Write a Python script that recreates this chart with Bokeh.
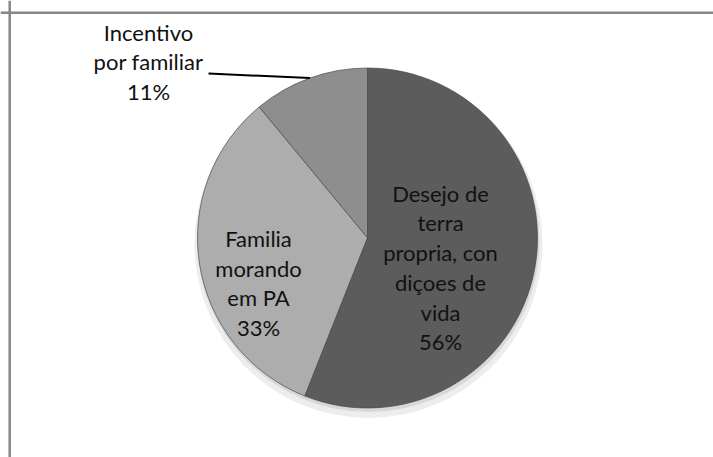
import numpy as np
from bokeh.plotting import figure
from bokeh.models import Range1d, Span, ColumnDataSource
from bokeh.core.properties import value
from bokeh.embed import file_html
from bokeh.resources import INLINE

# ---- data ----
categories = ["Incentivo\npor familiar", "Familia\nmorando\nem PA",
              "Desejo de\nterra\npropria, con\ndiçoes de\nvida"]
percents = [11, 33, 56]
colors = ["#8e8e8e", "#adadad", "#5c5c5c"]

# ---- layout constants ----
W, H = 713, 457
cx, cy, R = 367, 219.5, 170
label_x = [148, 258, 440]
label_y = [395.5, 174.5, 190]

p = figure(width=W, height=H, x_range=Range1d(0, W), y_range=Range1d(0, H),
           output_backend="svg", toolbar_location=None, min_border=0)
p.axis.visible = False
p.grid.visible = False
p.outline_line_color = None
p.background_fill_color = "white"
p.border_fill_color = "white"

frac = np.array(percents, dtype=float) / sum(percents)
ends = np.pi / 2 + 2 * np.pi * np.cumsum(frac)
starts = ends - 2 * np.pi * frac

# soft shadow
p.circle(x=[cx + 1], y=[cy - 6], radius=R + 4, fill_color="#e6e6e6", line_color=None, alpha=0.7)
p.circle(x=[cx + 1], y=[cy - 3], radius=R + 1, fill_color="#cfcfcf", line_color=None, alpha=0.7)

src = ColumnDataSource(dict(start=starts, end=ends, color=colors))
p.wedge(x=cx, y=cy, radius=R, start_angle="start", end_angle="end",
        fill_color="color", line_color="#4a4a4a", line_width=1, line_alpha=0.7, source=src)

texts = [f"{c}\n{v}%" for c, v in zip(categories, percents)]
p.text(x=label_x, y=label_y, text=texts, text_font=value("Lato"), text_font_size="22px",
       text_align="center", text_baseline="middle", text_line_height=1.1, text_color="#111111")

# leader line for the small slice
mid = (starts[0] + ends[0]) / 2
ex, ey = cx + R * np.cos(mid), cy + R * np.sin(mid)
p.line(x=[208, ex], y=[384, ey], line_color="black", line_width=2)

# chart-area frame (top and left visible)
p.add_layout(Span(location=H - 12.2, dimension="width", line_color="#878787", line_width=2.5))
p.add_layout(Span(location=9.2, dimension="height", line_color="#878787", line_width=2.5))

open("out.html", "w").write(file_html(p, INLINE))
